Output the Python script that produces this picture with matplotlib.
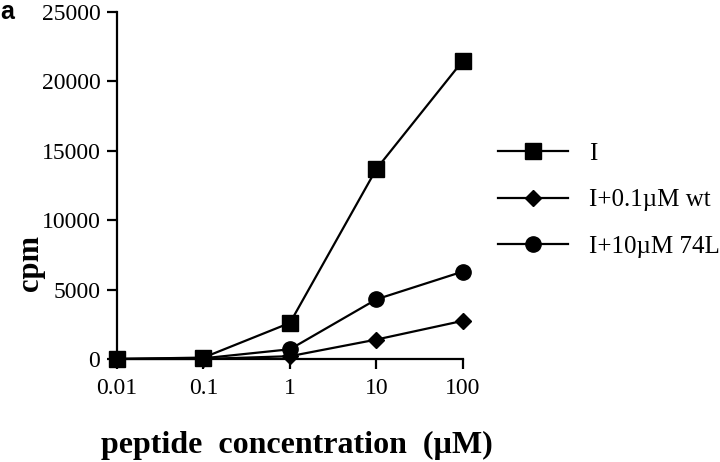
import matplotlib.pyplot as plt
from matplotlib.lines import Line2D

# data
conc = [0.01, 0.1, 1, 10, 100]
cpm_I = [0, 100, 2600, 13700, 21500]
cpm_wt = [0, 0, 200, 1400, 2750]
cpm_74L = [0, 50, 700, 4300, 6300]
labels = ["I", "I+0.1\u00b5M wt", "I+10\u00b5M 74L"]
xtick_labels = ["0.01", "0.1", "1", "10", "100"]
yticks = [0, 5000, 10000, 15000, 20000, 25000]

plt.rcParams["font.family"] = ["Liberation Serif", "DejaVu Serif"]

fig = plt.figure(figsize=(7.2, 4.62), dpi=100)
ax = fig.add_axes([0.1625, 0.223, 0.4805, 0.751])

ax.plot(conc, cpm_I, color="black", lw=1.6, marker="s", ms=12, zorder=3)
ax.plot(conc, cpm_wt, color="black", lw=1.6, marker="D", ms=8.5, zorder=3)
ax.plot(conc, cpm_74L, color="black", lw=1.6, marker="o", ms=11, zorder=3)

ax.set_xscale("log")
ax.set_xlim(0.01, 100)
ax.set_ylim(0, 25000)
ax.set_xticks(conc)
ax.set_xticklabels(xtick_labels)
ax.minorticks_off()
ax.set_yticks(yticks)
ax.set_yticklabels([str(v) for v in yticks])

for s in ["top", "right"]:
    ax.spines[s].set_visible(False)
for s in ["left", "bottom"]:
    ax.spines[s].set_linewidth(1.6)
ax.tick_params(direction="out", length=7, width=1.6, labelsize=17, pad=5)
ax.tick_params(axis="x", pad=7)
for ln in ax.lines:
    ln.set_clip_on(False)

fig.text(0.042, 0.43, "cpm", fontsize=22, fontweight="bold", rotation=90,
         ha="center", va="center")
fig.text(0.412, 0.035, "peptide  concentration  (\u00b5M)", fontsize=23,
         fontweight="bold", ha="center", va="center")
fig.text(0.0, 0.975, "a", fontsize=18, fontweight="bold",
         family="Liberation Sans", ha="left", va="center")

handles = [
    Line2D([], [], color="black", lw=1.6, marker="s", ms=11),
    Line2D([], [], color="black", lw=1.6, marker="D", ms=8.5),
    Line2D([], [], color="black", lw=1.6, marker="o", ms=11),
]
fig.legend(handles, labels, loc="center left", bbox_to_anchor=(0.691, 0.567),
           frameon=False, fontsize=18, handlelength=2.8, handletextpad=0.85,
           labelspacing=0.97, borderpad=0, borderaxespad=0)

fig.savefig("out.png", dpi=100)
